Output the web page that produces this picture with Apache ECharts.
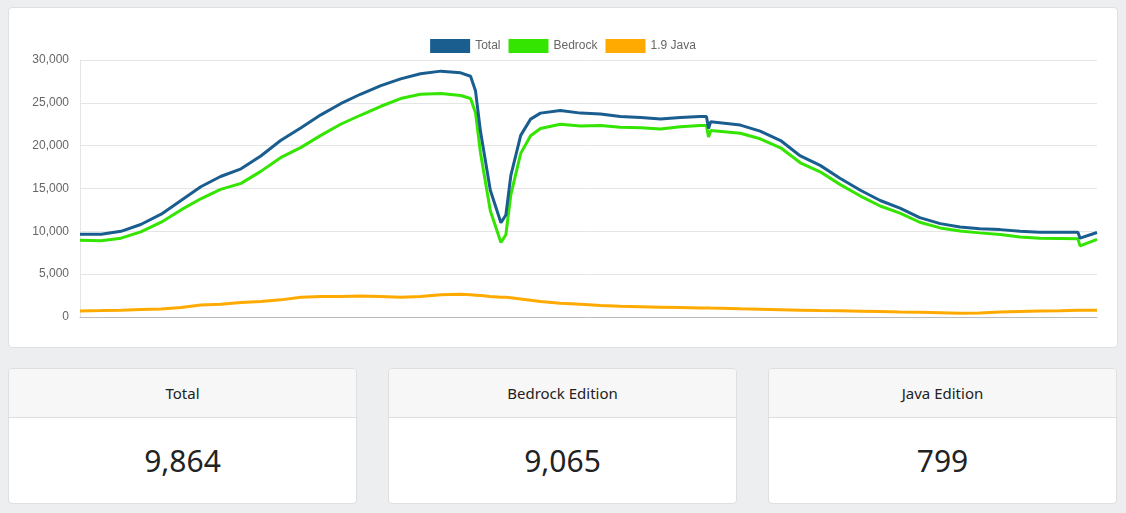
<!DOCTYPE html>
<html>
<head>
<meta charset="utf-8">
<script src="https://cdn.jsdelivr.net/npm/echarts@6/dist/echarts.min.js"></script>
<style>
  html, body { margin:0; padding:0; background:#eceeef; width:1126px; height:513px; overflow:hidden; font-family:"Noto Sans", "Open Sans", sans-serif; }
  .card { position:absolute; background:#fff; border:1px solid #dfdfdf; border-radius:4px; box-sizing:border-box; }
  #chartCard { left:8px; top:7px; width:1110px; height:341px; }
  #chart { width:100%; height:100%; }
  .stat { top:368px; width:349px; height:136px; text-align:center; color:#222; }
  .stat .hd { height:48px; line-height:48px; background:#f7f7f7; border-bottom:1px solid #dfdfdf; font-size:15px; border-radius:4px 4px 0 0; }
  .stat .val { font-size:30px; line-height:86px; }
</style>
</head>
<body>
<div class="card" id="chartCard"><div id="chart"></div></div>
<div class="card stat" style="left:8px"><div class="hd">Total</div><div class="val" id="vTotal"></div></div>
<div class="card stat" style="left:388px"><div class="hd">Bedrock Edition</div><div class="val" id="vBedrock"></div></div>
<div class="card stat" style="left:768px"><div class="hd">Java Edition</div><div class="val" id="vJava"></div></div>
<script>
// sample times (minutes since start)
var minutes = [0,30,58,86,115,143,171,199,228,256,284,313,341,369,397,426,454,482,511,539,553,560,567,581,596,603,610,624,638,652,680,709,737,765,794,822,850,878,887,890,893,935,963,992,1020,1048,1076,1105,1133,1161,1189,1218,1246,1274,1303,1331,1359,1388,1413,1416,1440];
var totalVals = [9650,9650,10000,10800,12000,13600,15200,16400,17300,18800,20600,22100,23600,24900,26000,27000,27800,28400,28700,28500,28100,26400,21700,14800,11000,11900,16500,21200,23100,23800,24100,23800,23700,23400,23300,23100,23300,23400,23400,22000,22800,22400,21700,20600,18800,17700,16200,14800,13600,12700,11600,10900,10500,10300,10200,10000,9900,9900,9900,9200,9864];
var bedrockVals = [8950,8900,9200,9930,11070,12500,13800,14900,15600,17000,18600,19800,21200,22500,23550,24600,25500,26000,26100,25850,25500,23850,19200,12400,8700,9600,14250,19100,21150,22000,22500,22300,22350,22150,22100,21950,22200,22350,22350,21000,21760,21450,20800,19750,18000,16950,15480,14120,12960,12120,11060,10400,10050,9820,9620,9350,9200,9160,9120,8300,9065];
var javaVals = [700,750,800,870,930,1100,1400,1500,1700,1800,2000,2300,2400,2400,2450,2400,2300,2400,2600,2650,2600,2550,2500,2400,2300,2300,2250,2100,1950,1800,1600,1500,1350,1250,1200,1150,1100,1050,1050,1050,1040,950,900,850,800,750,720,680,640,580,540,500,450,480,580,650,700,740,780,780,799];
var seriesNames = ['Total', 'Bedrock', '1.9 Java'];
var seriesColors = ['#1a5d8f', '#33e500', '#ffaa00'];

function pairs(vals) {
  return vals.map(function (v, i) { return [minutes[i], v]; });
}
var allVals = [totalVals, bedrockVals, javaVals];

document.getElementById('vTotal').textContent = totalVals[totalVals.length - 1].toLocaleString('en-US');
document.getElementById('vBedrock').textContent = bedrockVals[bedrockVals.length - 1].toLocaleString('en-US');
document.getElementById('vJava').textContent = javaVals[javaVals.length - 1].toLocaleString('en-US');

var chart = echarts.init(document.getElementById('chart'));
chart.setOption({
  animation: false,
  color: seriesColors,
  legend: {
    top: 26, left: 'center',
    itemWidth: 40, itemHeight: 14, itemGap: 8,
    icon: 'rect',
    textStyle: { color: '#666', fontSize: 12, fontFamily: 'Liberation Sans' },
    data: seriesNames
  },
  grid: { left: 71, right: 20, top: 52, bottom: 30 },
  xAxis: {
    type: 'value', min: 0, max: 1440,
    axisLabel: { show: false }, axisTick: { show: false },
    splitLine: { show: false },
    axisLine: { lineStyle: { color: '#bbb' } }
  },
  yAxis: {
    type: 'value', min: 0, max: 30000, interval: 5000,
    axisLine: { show: true, lineStyle: { color: '#e5e5e5' } },
    axisTick: { show: false },
    axisLabel: { color: '#666', fontSize: 12, fontFamily: 'Liberation Sans', margin: 11 },
    splitLine: { lineStyle: { color: '#e5e5e5' } }
  },
  series: seriesNames.map(function (n, i) {
    return {
      name: n, type: 'line', showSymbol: false, z: 3 - i,
      lineStyle: { width: 3 },
      data: pairs(allVals[i])
    };
  })
});
</script>
</body>
</html>
